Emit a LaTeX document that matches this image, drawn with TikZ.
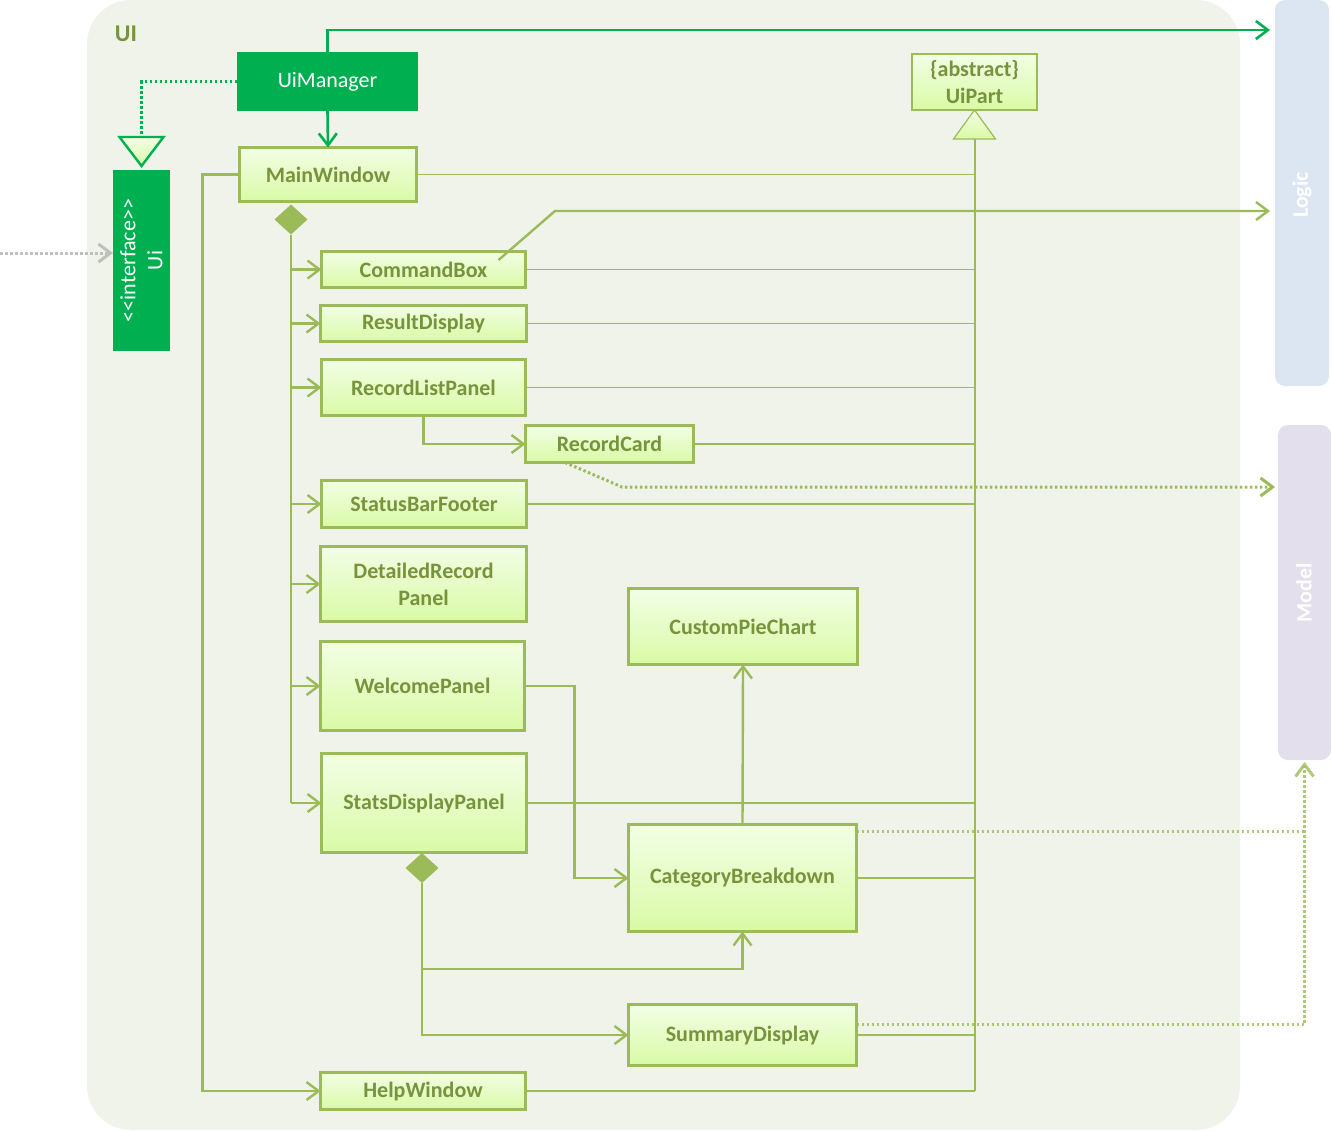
\documentclass[tikz,border=0pt]{standalone}
\usepackage{fontspec}
\setmainfont{Carlito}
\usetikzlibrary{arrows.meta,shapes.geometric,calc}
\definecolor{uibg}{HTML}{F0F3E9}
\definecolor{cline}{HTML}{9BBB59}
\definecolor{ctext}{HTML}{77933C}
\definecolor{ctop}{HTML}{F2FEE6}
\definecolor{cbot}{HTML}{DAFAA5}
\definecolor{dgreen}{HTML}{00B050}
\definecolor{logicbg}{HTML}{DCE6F2}
\definecolor{modelbg}{HTML}{E4DFEC}
\definecolor{ghost}{HTML}{BFBFBF}
\newcommand\ubox[6]{\node[cls,minimum width={(#4-#2-3)*0.5pt},minimum height={(#5-#3-3)*0.5pt}] (#1) at ({(#2+#4)/2},{(#3+#5)/2}) {#6};}
\tikzset{
  txt/.style={font=\fontsize{11pt}{13.5pt}\selectfont},
  btxt/.style={font=\fontsize{11pt}{13.5pt}\selectfont\bfseries},
  cls/.style={draw=cline, line width=1.5pt, top color=ctop, bottom color=cbot, text=ctext, btxt, align=center, inner sep=0pt, outer sep=0pt},
  tip/.style={-{Straight Barb[length=6pt,width=9pt]}},
  assoc/.style={draw=cline, line width=1.2pt, tip},
  dassoc/.style={draw=dgreen, line width=1.3pt, tip},
  compline/.style={draw=cline, line width=1.2pt},
  inhline/.style={draw=cline, line width=0.6pt},
  dotline/.style={draw=cline, line width=1.5pt, dash pattern=on 1.25pt off 1.25pt},
  dep/.style={dotline, tip},
  comp/.style={diamond, fill=cline, minimum width=16.5pt, minimum height=15pt, inner sep=0pt, outer sep=0pt},
}
\begin{document}
\begin{tikzpicture}[x=0.5pt,y=-0.5pt]
\useasboundingbox (0,0) rectangle (1332,1130);
% UI package
\fill[uibg, rounded corners=22pt] (87,0) rectangle (1240,1130);
\node[text=ctext, font=\fontsize{12pt}{14pt}\selectfont\bfseries] (uilabel) at (126,34) {UI};
% Logic and Model
\node[fill=logicbg, rounded corners=5pt, minimum width=27pt, minimum height=193pt, inner sep=0pt, outer sep=0pt] (Logic) at (1302,193) {};
\node[rotate=90, text=white, btxt] (logiclabel) at (1302,195) {Logic};
\node[fill=modelbg, rounded corners=5pt, minimum width=26.5pt, minimum height=167.5pt, inner sep=0pt, outer sep=0pt] (Model) at (1304.5,592.5) {};
\node[rotate=90, text=white, btxt] (modellabel) at (1304,593) {Model};
% Ui interface and UiManager
\node[fill=dgreen, minimum width=28.5pt, minimum height=90.5pt, inner sep=0pt, outer sep=0pt] (Ui) at (141.5,260.5) {};
\node[rotate=90, text=white, txt, align=center] (uitext) at (141.5,260.5) {<\kern0pt<interface>\kern0pt>\\Ui};
\node[fill=dgreen, text=white, txt, minimum width=90.5pt, minimum height=29.5pt, inner sep=0pt, outer sep=0pt] (UiManager) at (327.5,81.5) {UiManager};
% UiPart
\node[cls, line width=0.6pt, minimum width=62.5pt, minimum height=28pt] (UiPart) at (974.5,82) {\{abstract\}\\UiPart};
% classes
\ubox{MainWindow}{238}{146}{418}{203}{MainWindow}
\ubox{CommandBox}{320}{250}{527}{289}{CommandBox}
\ubox{ResultDisplay}{319}{304}{528}{343}{ResultDisplay}
\ubox{RecordListPanel}{320}{358}{527}{417}{RecordListPanel}
\ubox{RecordCard}{524}{424}{695}{464}{RecordCard}
\ubox{StatusBarFooter}{320}{479}{528}{529}{StatusBarFooter}
\ubox{DetailedRecordPanel}{319}{545}{528}{623}{DetailedRecord\\Panel}
\ubox{WelcomePanel}{319}{640}{526}{732}{WelcomePanel}
\ubox{StatsDisplayPanel}{320}{752}{528}{854}{StatsDisplayPanel}
\ubox{CustomPieChart}{627}{587}{859}{666}{CustomPieChart}
\ubox{CategoryBreakdown}{627}{823}{858}{933}{CategoryBreakdown}
\ubox{SummaryDisplay}{627}{1003}{858}{1067}{SummaryDisplay}
\ubox{HelpWindow}{319}{1071}{527}{1111}{HelpWindow}
% inheritance
\draw[inhline, top color=ctop, bottom color=cbot] (UiPart.south) -- ++(21,29) -- ++(-42,0) -- cycle;
\coordinate (inhbase) at ($(UiPart.south)+(0,29)$);
\draw[draw=cline, line width=1pt] (inhbase) -- (inhbase |- HelpWindow.east);
\foreach \b in {MainWindow,CommandBox,ResultDisplay,RecordListPanel,RecordCard,StatusBarFooter,StatsDisplayPanel,CategoryBreakdown,SummaryDisplay,HelpWindow}
  \draw[inhline] (\b.east) -- (\b.east -| inhbase);
% Ui realization
\coordinate (uitip) at ($(Ui.north)+(0,-4)$);
\draw[draw=dgreen, line width=1.2pt, top color=ctop, bottom color=cbot] (uitip) -- ++(-22,-29) -- ++(44,0) -- cycle;
\coordinate (uitop) at ($(uitip)+(0,-29)$);
\draw[draw=dgreen, line width=1.5pt, dash pattern=on 1.25pt off 1.25pt] (UiManager.west) -| (uitop);
\coordinate (ext) at (0,253);
\draw[draw=ghost, line width=1.5pt, dash pattern=on 1.25pt off 1.25pt, tip] (ext) -- (ext -| Ui.west);
% UiManager arrows
\draw[dassoc] (UiManager.south) -- (MainWindow.north);
\coordinate (y30) at (0,30);
\draw[dassoc, shorten >=2.5pt] (UiManager.north) |- (Logic.west |- y30);
% MainWindow composition
\node[comp] (dMain) at (291,219.5) {};
\draw[compline] (dMain.south) -- (dMain.south |- StatsDisplayPanel.west);
\foreach \b in {CommandBox,ResultDisplay,RecordListPanel,StatusBarFooter,DetailedRecordPanel,WelcomePanel,StatsDisplayPanel}
  \draw[assoc] (dMain.south |- \b.west) -- (\b.west);
\draw[assoc] (MainWindow.west) -- ++(-37,0) |- (HelpWindow.west);
% CommandBox -> Logic
\coordinate (cbk) at ($(CommandBox.east)+(-27,-9.5)$);
\coordinate (y211) at (555,211);
\draw[assoc, shorten >=2.5pt] (cbk) -- (y211) -- (Logic.west |- y211);
% RecordListPanel -> RecordCard -> Model
\draw[assoc] (RecordListPanel.south) |- (RecordCard.west);
\coordinate (rcout) at ($(RecordCard.south)+(-44.5,0)$);
\coordinate (rcb) at (622,487);
\draw[dep, shorten >=1.5pt] (rcout) -- (rcb) -- (Model.west |- rcb);
% Welcome / stats
\draw[assoc] (WelcomePanel.east) -- ++(50,0) |- (CategoryBreakdown.west);
\draw[assoc] (CategoryBreakdown.north) -- (CustomPieChart.south);
\node[comp] (dStats) at (422,868) {};
\draw[assoc] (dStats.south) |- (SummaryDisplay.west);
\coordinate (y969) at (0,969);
\draw[assoc] (dStats.south |- y969) -| (CategoryBreakdown.south);
% dependencies to Model
\coordinate (cbo) at ($(CategoryBreakdown.north east)+(0,7)$);
\coordinate (sdo) at ($(SummaryDisplay.north east)+(0,20)$);
\draw[dotline, opacity=0.8] (cbo) -- (cbo -| Model.south);
\draw[dep, opacity=0.8, shorten >=1pt] (sdo) -| (Model.south);
\end{tikzpicture}
\end{document}
